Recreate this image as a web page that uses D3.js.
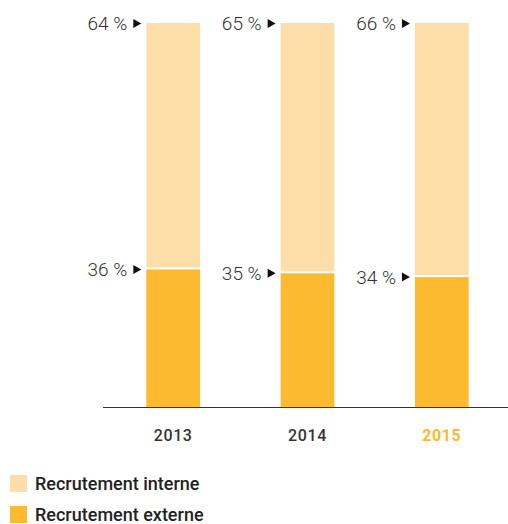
<!DOCTYPE html>
<html>
<head>
<meta charset="utf-8">
<script src="https://cdn.jsdelivr.net/npm/d3@7"></script>
<style>
  html, body { margin: 0; padding: 0; background: #fff; }
  svg { display: block; font-family: Roboto, "Open Sans", sans-serif; }
</style>
</head>
<body>
<svg id="chart" width="508" height="524"></svg>
<script>
// Recruitment split per year (percent)
const years = ["2013", "2014", "2015"];
const interne = [64, 65, 66];
const externe = [36, 35, 34];
const seriesNames = ["Recrutement interne", "Recrutement externe"];

const colInterne = "#FDDEA8";
const colExterne = "#FBBA30";
const textCol = "#333333";
const highlightYear = "2015";

const svg = d3.select("#chart");

const x = d3.scaleBand()
  .domain(years)
  .range([106, 509])
  .paddingInner(0.6)
  .paddingOuter(0.3);

const y = d3.scaleLinear().domain([0, 100]).range([408, 23]);

const rows = years.map((yr, i) => ({ year: yr, ext: externe[i], int: interne[i] }));

// stacked bars: external at the bottom, internal on top
const g = svg.append("g");
g.selectAll("rect.ext").data(rows).join("rect")
  .attr("class", "ext")
  .attr("x", d => x(d.year))
  .attr("width", x.bandwidth())
  .attr("y", d => y(d.ext))
  .attr("height", d => y(0) - y(d.ext))
  .attr("fill", colExterne);

g.selectAll("rect.int").data(rows).join("rect")
  .attr("class", "int")
  .attr("x", d => x(d.year))
  .attr("width", x.bandwidth())
  .attr("y", d => y(d.ext + d.int))
  .attr("height", d => y(d.ext) - y(d.ext + d.int) - 2)
  .attr("fill", colInterne);

// baseline
svg.append("line")
  .attr("x1", 103).attr("x2", 508)
  .attr("y1", y(0) - 0.5).attr("y2", y(0) - 0.5)
  .attr("stroke", "#333").attr("stroke-width", 1);

// value labels with a small pointer triangle
function addLabel(d, yy, val) {
  const bx = x(d.year);
  svg.append("path")
    .attr("d", `M${bx - 13},${yy - 4.5}L${bx - 5},${yy}L${bx - 13},${yy + 4.5}Z`)
    .attr("fill", "#111");
  svg.append("text")
    .attr("x", bx - 19)
    .attr("y", yy)
    .attr("dy", "0.36em")
    .attr("text-anchor", "end")
    .attr("font-size", 19)
    .attr("font-weight", 300)
    .attr("fill", textCol)
    .text(val + " %");
}
rows.forEach(d => {
  addLabel(d, y(d.ext + d.int) + 0.5, d.int);
  addLabel(d, y(d.ext), d.ext);
});

// year labels
svg.selectAll("text.year").data(years).join("text")
  .attr("class", "year")
  .attr("x", d => x(d) + x.bandwidth() / 2)
  .attr("y", 441)
  .attr("text-anchor", "middle")
  .attr("font-size", 16)
  .attr("letter-spacing", 0.6)
  .attr("fill", d => d === highlightYear ? colExterne : textCol)
  .style("font-weight", d => d === highlightYear ? 700 : 500)
  .text(d => d);

// legend
const legend = svg.append("g");
const legendColors = [colInterne, colExterne];
seriesNames.forEach((name, i) => {
  const ly = 475 + i * 31;
  legend.append("rect")
    .attr("x", 10).attr("y", ly)
    .attr("width", 17).attr("height", 17)
    .attr("fill", legendColors[i]);
  legend.append("text")
    .attr("x", 35).attr("y", ly + 14.5)
    .attr("font-size", 18)
    .attr("font-weight", 500)
    .attr("fill", "#222")
    .text(name);
});
</script>
</body>
</html>
